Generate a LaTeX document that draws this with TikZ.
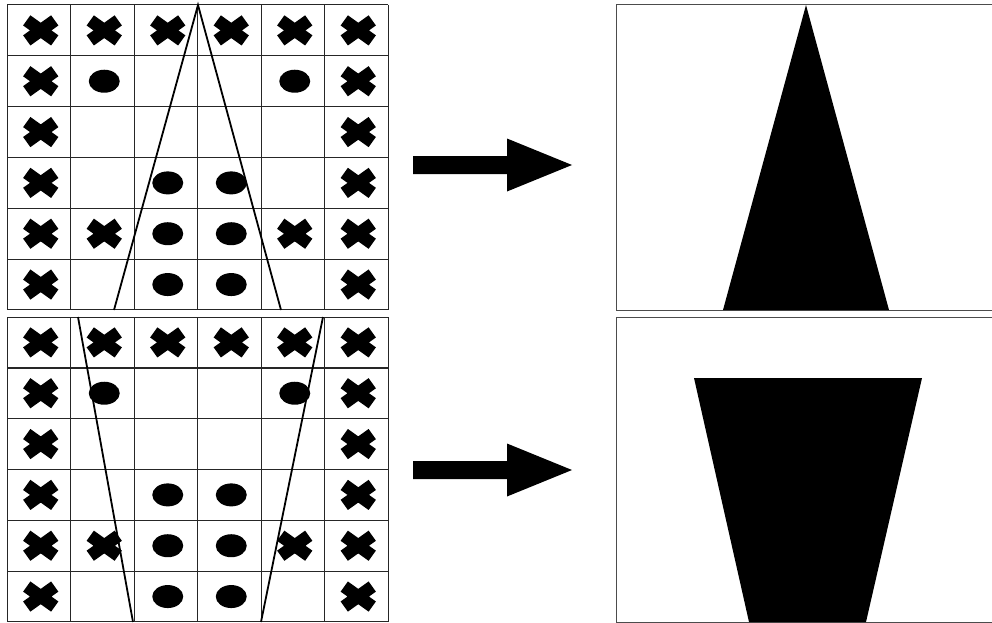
\documentclass[tikz,border=0pt]{standalone}
\usetikzlibrary{positioning}

\begin{document}
\begin{tikzpicture}[
  x=1pt,y=-1pt,
  cell/.style={draw=black!85,line width=1pt},
  ray/.style={draw=black,line width=1.8pt},
  frame/.style={draw=black!70,line width=1pt},
  blob/.style={fill=black},
  xmark/.pic={\draw[line width=12.5pt] (-14,-10)--(14,10) (-14,10)--(14,-10);},
  dotmark/.pic={\fill (0,0) ellipse (15.5 and 11.5);}
]
\useasboundingbox (0,0) rectangle (992,623);

\foreach \gy/\ty in {5/165,317/470}{
  % grid of 6 x 6 cells
  \foreach \i in {0,...,6}{
    \draw[cell] (7+63.5*\i,\gy) -- ++(0,305);
    \draw[cell] (7,\gy+50.83*\i) -- ++(381,0);
  }
  \foreach \c/\r in {0/0,1/0,2/0,3/0,4/0,5/0,0/1,5/1,0/2,5/2,0/3,5/3,
                     0/4,1/4,4/4,5/4,0/5,5/5}
    \pic at (9+63.5*\c+31.75,\gy+50.83*\r+25.4) {xmark};
  \foreach \c/\r in {1/1,4/1,2/3,3/3,2/4,3/4,2/5,3/5}
    \pic at (9+63.5*\c+31.75,\gy+50.83*\r+25.4) {dotmark};
  % result panel
  \draw[frame] (616,\gy) rectangle (1000,\gy+305);
  \fill (413,\ty-9) -- (507,\ty-9) -- (507,\ty-26.5) -- (572,\ty)
    -- (507,\ty+26.5) -- (507,\ty+9) -- (413,\ty+9) -- cycle;
}
\draw[cell,line width=1.8pt] (7,367.8) -- ++(381,0);

\coordinate (apex) at (198,5);
\coordinate (topL) at (114,310);
\coordinate (topR) at (281,310);
\coordinate (botLa) at (78,317);
\coordinate (botLb) at (133,622);
\coordinate (botRa) at (323,317);
\coordinate (botRb) at (261,622);
\draw[ray] (topL) -- (apex) -- (topR);
\draw[ray] (botLa) -- (botLb);
\draw[ray] (botRa) -- (botRb);

\fill[blob] (806,5) -- (889,310) -- (723,310) -- cycle;
\fill[blob] (694,378) -- (922,378) -- (866,622) -- (749,622) -- cycle;
\end{tikzpicture}
\end{document}
